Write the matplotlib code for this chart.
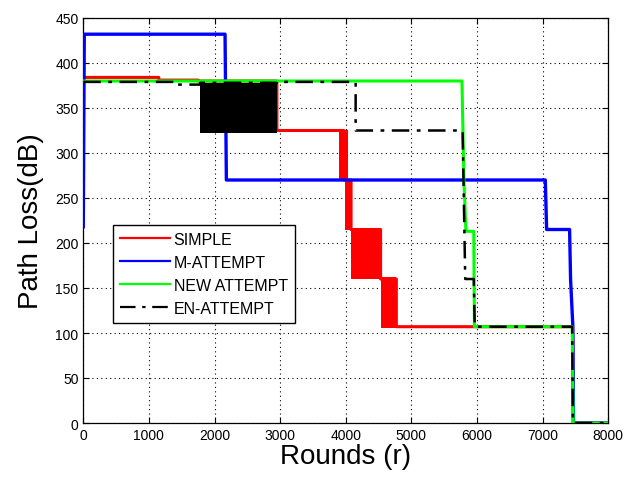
import matplotlib
matplotlib.use("Agg")
import matplotlib.pyplot as plt

# ---- data ----
simple_x = [0, 1150, 1150, 1750, 1750, 2950, 2950, 3970, 3970, 4080, 4080, 4530, 4530, 4770, 4770, 7455, 7465, 8000]
simple_y = [384, 384, 381, 381, 380, 380, 325, 325, 270, 270, 215, 215, 160, 160, 107, 107, 0, 0]

matt_x = [0, 15, 2160, 2180, 7040, 7060, 7410, 7425, 7460, 7470, 8000]
matt_y = [218, 432, 432, 270, 270, 215, 215, 160, 107, 0, 0]

new_x = [0, 5770, 5800, 5830, 5950, 5960, 7450, 7465, 8000]
new_y = [380, 380, 270, 213, 213, 107, 107, 0, 0]

en_x = [0, 1420, 1420, 1780, 1780, 2950, 2950, 4150, 4150, 5780, 5820, 5950, 5965, 7450, 7460, 8000]
en_y = [379, 379, 376, 376, 378, 378, 379, 379, 325, 325, 160, 160, 107, 107, 0, 0]

# densely oscillating regions (appear as filled blocks): (x0, x1, ylow, yhigh)
simple_blocks = [(3900, 4040, 270, 326), (3990, 4080, 215, 270),
                 (4076, 4530, 160, 217), (4530, 4770, 106, 162)]
en_blocks = [(1780, 2950, 322, 378)]

xticks = [0, 1000, 2000, 3000, 4000, 5000, 6000, 7000, 8000]
yticks = [0, 50, 100, 150, 200, 250, 300, 350, 400, 450]

plt.rcParams['font.family'] = ['Liberation Sans', 'DejaVu Sans']

fig = plt.figure(figsize=(6.24, 4.81), dpi=100)
ax = fig.add_axes([83.3/624, 1-424/481, (608.3-83.3)/624, (424-19)/481])

red = '#ff0000'
blue = '#0000ff'
green = '#00ff00'

for (x0, x1, y0, y1) in simple_blocks:
    ax.fill_between([x0, x1], [y0, y0], [y1, y1], color=red, lw=0, zorder=2)
ax.plot(simple_x, simple_y, color=red, lw=2.2, label='SIMPLE', zorder=2)
ax.plot(matt_x, matt_y, color=blue, lw=2.4, label='M-ATTEMPT', zorder=3)
ax.plot(new_x, new_y, color=green, lw=2.2, label='NEW ATTEMPT', zorder=4)
for (x0, x1, y0, y1) in en_blocks:
    ax.fill_between([x0, x1], [y0, y0], [y1, y1], color='black', lw=0, zorder=5)
ax.plot(en_x, en_y, color='black', lw=1.8, dashes=(7, 3, 1.5, 3), label='EN-ATTEMPT', zorder=5)

ax.set_xlim(0, 8000)
ax.set_ylim(0, 450)
ax.set_xticks(xticks)
ax.set_yticks(yticks)
ax.tick_params(direction='in', top=True, right=True, labelsize=10, length=4, width=0.8)
ax.grid(True, linestyle=(0, (1, 3)), color='black', lw=0.8)
for s in ax.spines.values():
    s.set_linewidth(0.9)

ax.set_xlabel('Rounds (r)', fontsize=20, labelpad=1)
ax.set_ylabel('Path Loss(dB)', fontsize=20, labelpad=8)

leg = ax.legend(loc='lower left', bbox_to_anchor=(0.0566, 0.247), fontsize=11.5,
                frameon=True, fancybox=False, framealpha=1, edgecolor='black',
                handlelength=3.1, borderpad=0.45, labelspacing=0.5, handletextpad=0.25,
                borderaxespad=0)
leg.get_frame().set_linewidth(1.0)
for h in leg.get_lines():
    h.set_linewidth(1.6)

fig.savefig('out.png', dpi=100)
